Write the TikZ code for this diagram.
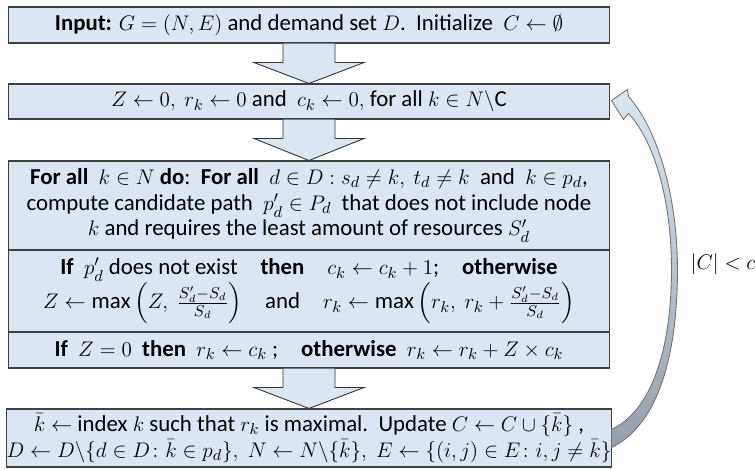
\documentclass[tikz,border=0pt]{standalone}
\usepackage{amsmath, amssymb}
\usepackage{fontspec}
\setmainfont{Carlito}
\usepackage{tikz}
\usetikzlibrary{calc}

\definecolor{boxblue}{RGB}{220,230,242}
\definecolor{loopgray}{RGB}{150,158,170}

% 两个框之间的粗箭头
\newcommand{\blockarrow}[2]{%
  \filldraw[arrowbody] ($(#1.south)+(-26,0)$) -- ++(0,19) -- ++(-29,0) -- (#2.north)
    -- ($(#1.south)+(55,19)$) -- ++(-29,0) -- ++(0,-19);}

\begin{document}
\begin{tikzpicture}[x=0.02cm, y=-0.02cm, font=\fontsize{13}{14.7}\selectfont,
    stepbox/.style={draw=black!75, line width=0.6pt, fill=boxblue, minimum width=12.04cm,
      inner sep=0pt, align=center},
    arrowbody/.style={draw=black!80, line width=0.5pt, fill=boxblue}]
  \useasboundingbox (0,0) rectangle (755,470);

  % --- 流程框 ---
  \node[stepbox, minimum height=0.72cm] (input) at (309,25)
    {\textbf{Input:} $G=(N,E)$ and demand set $D$.\ \ Initialize\ \ $C\leftarrow\emptyset$};
  \node[stepbox, minimum height=0.70cm] (init) at (309,101.5)
    {$Z\leftarrow 0,\ r_k\leftarrow 0$\ and\ \ $c_k\leftarrow 0,$\ for all $k\in N\backslash\mathrm{C}$};
  % 中间的大框 (三段)
  \node[stepbox, minimum height=1.78cm] (paths) at (309,205.5)
    {\textbf{For all}\ \ $k\in N$ \textbf{do}:\ \ \textbf{For all}\ \ $d\in D : s_d\neq k,\ t_d\neq k$\ \ and\ \ $k\in p_d$,\\
     compute candidate path\ \ $p'_d\in P_d$\ \ that does not include node\\
     $k$ and requires the least amount of resources $S'_d$};
  \node[stepbox, minimum height=1.64cm] (count) at (309,291)
    {\textbf{If}\ \ $p'_d$ does not exist\quad\textbf{then}\quad $c_k\leftarrow c_k+1$;\quad\textbf{otherwise}\\
     $Z\leftarrow\max\left(Z,\ \frac{S'_d-S_d}{S_d}\right)$\quad and\quad
     $r_k\leftarrow\max\left(r_k,\ r_k+\frac{S'_d-S_d}{S_d}\right)$};
  \node[stepbox, minimum height=0.72cm] (rank) at (309,350)
    {\textbf{If}\ \ $Z=0$\ \ \textbf{then}\ \ $r_k\leftarrow c_k$ ;\quad\textbf{otherwise}\ \ $r_k\leftarrow r_k+Z\times c_k$};
  \node[stepbox, minimum height=1.16cm] (update) at (309,438)
    {$\bar{k}\leftarrow$ index $k$ such that $r_k$ is maximal.\ \ Update $C\leftarrow C\cup\{\bar{k}\}$ ,\\
     \fontsize{12.4}{14.7}\selectfont
     $D\leftarrow D\backslash\{d\in D\colon\bar{k}\in p_d\},\;N\leftarrow N\backslash\{\bar{k}\},\;
      E\leftarrow\{(i,j)\in E\colon i,j\neq\bar{k}\}$};

  % --- 向下的粗箭头 ---
  \blockarrow{input}{init}
  \blockarrow{init}{paths}
  \blockarrow{rank}{update}

  % --- 回到初始化的弯箭头 ---
  \begin{scope}[shift={(init.east)}]
    \shade[top color=boxblue, middle color=boxblue, bottom color=loopgray, draw=black!55, line width=0.5pt]
      (1,-1) -- (17,-12) -- (18,-5)
      .. controls (45,25) and (67,90) .. (67,168)
      .. controls (67,260) and (45,325) .. (1,346)
      -- (1,328)
      .. controls (40,310) and (61,250) .. (61,168)
      .. controls (61,90) and (40,35) .. (18,12)
      -- (13,18) -- cycle;
  \end{scope}
  \node (cond) at (723,264) {$|C|<c$};
\end{tikzpicture}
\end{document}
